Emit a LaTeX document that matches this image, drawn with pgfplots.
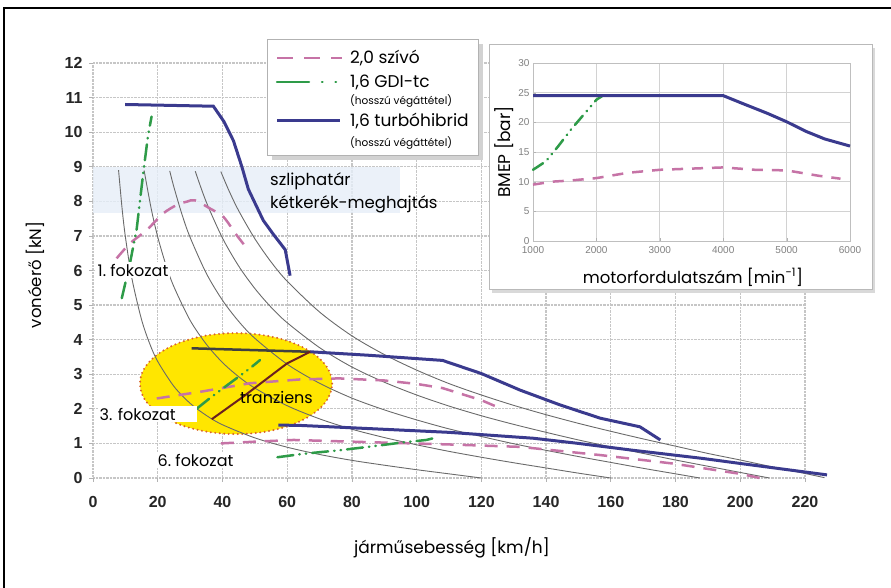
\documentclass[border=0pt]{standalone}
\usepackage{pgfplots}
\pgfplotsset{compat=1.18}
\usepackage{fontspec}
\setmainfont{Poppins}
\newfontfamily\tickfont{Liberation Sans}
\newfontfamily\tickbold{Liberation Sans Bold}
\definecolor{pinkc}{HTML}{C673A6}
\definecolor{greenc}{HTML}{2E9B48}
\definecolor{bluec}{HTML}{3A3A8E}
\definecolor{greyc}{HTML}{6A6A6A}
\definecolor{yel}{HTML}{FFE600}
\definecolor{dotc}{HTML}{D9622B}
\definecolor{band}{HTML}{E6EEF8}
\definecolor{brownc}{HTML}{6B2020}
\frenchspacing
\begin{document}
\begin{tikzpicture}[x=1pt,y=1pt]
\path[use as bounding box] (0,0) rectangle (891,588);
\draw[line width=2.5pt] (4,0) -- (4,580) -- (891,580);
\begin{axis}[
  at={(93pt,110pt)}, anchor=south west, scale only axis,
  width=712pt, height=415pt,
  xmin=0, xmax=220, ymin=0, ymax=12,
  xtick={0,20,...,220}, ytick={0,1,...,12},
  xticklabels={0,20,40,60,80,100,120,140,160,180,200,220},
  yticklabels={0,1,2,3,4,5,6,7,8,9,10,11,12},
  xtick pos=left, ytick pos=left,
  grid=major, major grid style={gray!45, densely dotted, line width=1.2pt},
  axis line style={draw=none},
  tick style={gray!60, line width=0.8pt}, tick align=outside, major tick length=4pt,
  xticklabel style={font=\tickbold\fontsize{16}{16}\selectfont, text=black!85, yshift=-11pt},
  yticklabel style={font=\tickbold\fontsize{16}{16}\selectfont, text=black!85, xshift=-3pt},
  clip=false,
]
\addplot[draw=none, fill=band, fill opacity=0.8] coordinates {(0,7.65) (95,7.65) (95,9.0) (0,9.0)} -- cycle;
\fill[yel] (axis cs:44.2,2.73) ellipse [x radius=29.7, y radius=1.46];
\draw[dotc, line width=2.2pt, line cap=round, dash pattern=on 0pt off 4.5pt] (axis cs:44.2,2.73) ellipse [x radius=29.7, y radius=1.46];
% gear / iso-power curves
\addplot[greyc, line width=0.9pt, smooth] coordinates {(7.9,8.90) (9,7.78) (10,6.98) (12,5.78) (15,4.58) (17.5,3.89) (20,3.37) (25,2.65) (30,2.16) (35,1.81) (40,1.54) (50,1.16) (60,0.89) (70,0.68) (80,0.51) (90,0.37) (100,0.24) (110,0.12) (120,0.0)};
\addplot[greyc, line width=0.9pt, smooth] coordinates {(15.8,8.89) (18,7.78) (20,6.97) (22.5,6.17) (25,5.53) (30,4.56) (35,3.87) (40,3.34) (45,2.93) (50,2.60) (60,2.09) (70,1.71) (80,1.41) (90,1.17) (100,0.96) (110,0.77) (120,0.60) (130,0.44) (140,0.29) (150,0.14) (160,0.0)};
\addplot[greyc, line width=0.9pt, smooth] coordinates {(23.7,8.88) (25,8.41) (27.5,7.62) (30,6.96) (35,5.92) (40,5.14) (45,4.53) (50,4.04) (60,3.29) (70,2.74) (80,2.31) (90,1.97) (100,1.68) (110,1.42) (120,1.20) (130,0.99) (140,0.80) (150,0.62) (160,0.45) (170,0.28) (180,0.12) (187.5,0.0)};
\addplot[greyc, line width=0.9pt, smooth] coordinates {(31.6,8.87) (35,7.98) (40,6.94) (45,6.13) (50,5.48) (55,4.94) (60,4.49) (70,3.77) (80,3.21) (90,2.77) (100,2.40) (110,2.08) (120,1.80) (130,1.55) (140,1.32) (150,1.10) (160,0.90) (170,0.71) (180,0.52) (190,0.34) (200,0.16) (209,0.0)};
\addplot[greyc, line width=0.9pt, smooth] coordinates {(39.5,8.86) (42,8.31) (45,7.73) (50,6.92) (55,6.25) (60,5.69) (70,4.80) (80,4.11) (90,3.57) (100,3.12) (110,2.73) (120,2.40) (130,2.10) (140,1.83) (150,1.58) (160,1.35) (170,1.13) (180,0.92) (190,0.71) (200,0.52) (210,0.32) (220,0.13) (226,0.01)};
% 2,0 szivo
\addplot[pinkc, line width=2.5pt, dash pattern=on 13pt off 9pt, smooth] coordinates {(7.3,6.35) (11.4,6.78) (16.6,7.17) (21.7,7.65) (26,7.9) (29,7.99) (31.5,8.03) (36.2,7.79) (40.3,7.55) (44.4,7.02) (48,6.59)};
\addplot[pinkc, line width=2.5pt, dash pattern=on 13pt off 9pt] coordinates {(19.7,2.30) (33,2.49) (48.5,2.74) (64,2.85) (76,2.88) (90,2.82) (100,2.72) (108,2.6) (120,2.25) (126,2.01)};
\addplot[pinkc, line width=2.5pt, dash pattern=on 13pt off 9pt] coordinates {(39.5,1.0) (50,1.05) (62,1.10) (80,1.05) (110,0.97) (132,0.90) (157,0.66) (179,0.42) (200,0.12) (206,0.0)};
% 1,6 GDI-tc
\addplot[greenc, line width=2.5pt, line cap=round, dash pattern=on 16pt off 6pt on 0.5pt off 6pt on 0.5pt off 6pt] coordinates {(8.9,5.2) (11.4,6.2) (13.5,7.2) (15.5,8.8) (17,9.9) (18.1,10.45)};
\addplot[greenc, line width=2.5pt, line cap=round, dash pattern=on 16pt off 6pt on 0.5pt off 6pt on 0.5pt off 6pt] coordinates {(32,2.0) (36,2.3) (42,2.72) (48.5,3.17) (51.6,3.41)};
\addplot[greenc, line width=2.5pt, line cap=round, dash pattern=on 16pt off 6pt on 0.5pt off 6pt on 0.5pt off 6pt] coordinates {(57,0.6) (65,0.7) (76,0.8) (85,0.9) (95,1.02) (103,1.1) (106,1.17)};
% 1,6 turbohibrid
\addplot[bluec, line width=3pt] coordinates {(9.9,10.8) (37.2,10.75) (40.5,10.3) (43.4,9.75) (46,9.0) (48,8.35) (52.6,7.45) (55.7,7.05) (59.4,6.6) (60.9,5.85)};
\addplot[black!75, line width=2.5pt] coordinates {(30.5,3.75) (67,3.65)};
\addplot[bluec, line width=3pt] coordinates {(67,3.65) (85,3.55) (108,3.40) (120,3.02) (132,2.54) (144.4,2.11) (156.7,1.73) (169,1.48) (175.3,1.10)};
\addplot[bluec, line width=3pt] coordinates {(57.3,1.53) (64,1.52) (85,1.43) (110,1.32) (136,1.15) (150,1.0) (167,0.80) (188,0.57) (200,0.42) (226.8,0.09)};
% tranziens
\addplot[brownc, line width=2pt] coordinates {(36.7,1.70) (46.4,2.35) (59.9,3.31) (67.1,3.65)};
\end{axis}
% axis titles
\node[rotate=90, font=\fontsize{16.5}{16.5}\selectfont] at (35,313) {vonóerő [kN]};
\node[font=\fontsize{17}{17}\selectfont] at (452,40) {járműsebesség [km/h]};
% annotations
\node[anchor=west, inner sep=0, font=\fontsize{16.5}{16.5}\selectfont] at (270,407) {szliphatár};
\node[anchor=west, inner sep=0, font=\fontsize{16.5}{16.5}\selectfont] at (270,384) {kétkerék-meghajtás};
\node[anchor=west, fill=white, inner sep=1.5pt, font=\fontsize{16}{16}\selectfont] at (96,318) {1. fokozat};
\node[anchor=west, fill=white, inner sep=1.5pt, text width=96pt, align=left, font=\fontsize{16}{16}\selectfont] at (98,174) {3. fokozat};
\node[anchor=west, fill=white, inner sep=1.5pt, font=\fontsize{16}{16}\selectfont] at (156,128) {6. fokozat};
\node[anchor=west, inner sep=0, font=\fontsize{16}{16}\selectfont] at (240,191) {tranziens};
% legend
\fill[gray!35] (272,428) rectangle (483,544);
\draw[gray!60, fill=white, line width=0.8pt] (267,433) rectangle (478,549);
\draw[pinkc, line width=2.5pt, dash pattern=on 16pt off 11pt] (277,530) -- (342,530);
\draw[greenc, line width=2.5pt, line cap=round, dash pattern=on 32pt off 13pt on 0.5pt off 13pt on 0.5pt off 13pt] (277,506) -- (340,506);
\draw[bluec, line width=3pt] (277,467) -- (340,467);
\node[anchor=west, inner sep=0, font=\fontsize{17}{17}\selectfont] at (350,530) {2,0 szívó};
\node[anchor=west, inner sep=0, font=\fontsize{17}{17}\selectfont] at (350,506) {1,6 GDI-tc};
\node[anchor=west, inner sep=0, font=\fontsize{10.5}{10.5}\selectfont] at (350,487) {(hosszú végáttétel)};
\node[anchor=west, inner sep=0, font=\fontsize{17}{17}\selectfont] at (350,467) {1,6 turbóhibrid};
\node[anchor=west, inner sep=0, font=\fontsize{10.5}{10.5}\selectfont] at (350,445) {(hosszú végáttétel)};
% inset
\fill[gray!30] (492,295) rectangle (875,540);
\draw[gray!55, fill=white, line width=1pt] (489,298) rectangle (872,543);
\begin{axis}[
  at={(533pt,347pt)}, anchor=south west, scale only axis,
  width=317pt, height=178pt,
  xmin=1000, xmax=6000, ymin=0, ymax=30,
  xtick={1000,2000,...,6000}, ytick={0,5,...,30},
  xticklabels={1000,2000,3000,4000,5000,6000},
  yticklabels={0,5,10,15,20,25,30},
  xtick pos=left, ytick pos=left,
  grid=major, major grid style={gray!35, line width=0.8pt},
  axis line style={gray!50, line width=0.8pt},
  tick style={gray!60}, major tick length=3pt,
  xticklabel style={font=\tickfont\fontsize{10}{10}\selectfont, text=gray, yshift=-2pt},
  yticklabel style={font=\tickfont\fontsize{10}{10}\selectfont, text=gray},
  clip=false,
]
\addplot[pinkc, line width=2.5pt, dash pattern=on 11pt off 9pt] coordinates {(1000,9.5) (1300,10) (1600,10.2) (2000,10.6) (2500,11.5) (3000,12) (3500,12.2) (4000,12.4) (4500,12) (5000,11.9) (5500,11.0) (5850,10.5)};
\addplot[greenc, line width=2.5pt, line cap=round, dash pattern=on 12pt off 6pt on 0.5pt off 6pt on 0.5pt off 6pt] coordinates {(1000,12) (1200,13.4) (1400,16) (1600,18.8) (1800,21.3) (2000,23.8) (2100,24.5)};
\addplot[bluec, line width=3pt] coordinates {(1000,24.5) (2000,24.5) (3000,24.5) (4000,24.5) (4300,23.2) (4700,21.5) (5000,20.1) (5300,18.5) (5600,17.2) (6000,16.0)};
\end{axis}
\node[rotate=90, font=\fontsize{17}{17}\selectfont] at (504,436) {BMEP [bar]};
\node[font=\fontsize{16.5}{16.5}\selectfont] at (693,311) {motorfordulatszám [min\textsuperscript{-1}]};
\end{tikzpicture}
\end{document}
